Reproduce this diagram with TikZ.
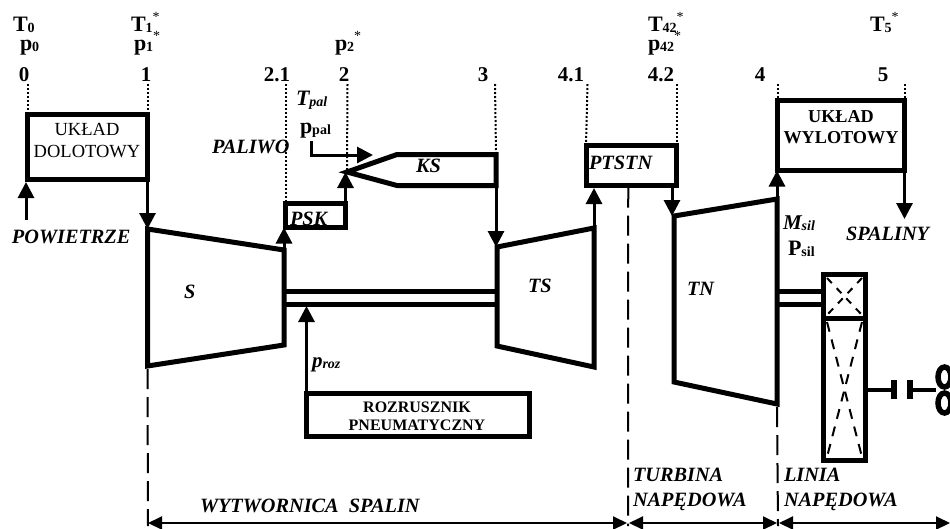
\documentclass[tikz,border=0pt]{standalone}
\usepackage{fontspec}
\setmainfont{Liberation Serif}
\usetikzlibrary{arrows.meta}
\newcommand{\fs}[1]{\fontsize{#1}{#1}\selectfont}
\newcommand{\sbb}[1]{\raisebox{-1.5pt}{\fs{14}#1}}
\newcommand{\str}{\raisebox{10pt}{\fs{14}\textmd{*}}}
\tikzset{
  x=1pt,y=-1pt,
  boxn/.style={draw=black,line width=5pt,inner sep=0pt,outer sep=0pt,fill=none},
  body/.style={draw=black,line width=5pt,line join=miter},
  flow/.style={draw=black,line width=3pt,-{Triangle[width=16pt,length=16pt]}},
  dots/.style={draw=black,line width=2pt,dash pattern=on 2pt off 2pt},
  longdash/.style={draw=black,line width=2pt,dash pattern=on 20pt off 8pt},
  span/.style={draw=black,line width=2pt,{Triangle[width=13pt,length=14pt]}-{Triangle[width=13pt,length=14pt]}},
  gearline/.style={draw=black,line width=2pt,dash pattern=on 10pt off 8pt},
  tx/.style={anchor=base west,inner sep=0pt,outer sep=0pt,font=\fs{22}\bfseries},
  num/.style={anchor=base,inner sep=0pt,outer sep=0pt,font=\fs{21}\bfseries},
  it/.style={anchor=base west,inner sep=0pt,outer sep=0pt,font=\fs{20.3}\bfseries\itshape},
  ctr/.style={anchor=base,inner sep=0pt,outer sep=0pt},
}
\begin{document}
\begin{tikzpicture}
\useasboundingbox (0,0) rectangle (950,528);
% text that sits behind the outlines
\node[it] (lpsk) at (290,225) {PSK};
\node[it] (lpaliwo) at (212,153) {PALIWO};
% boxes
\node[boxn,minimum width=120pt,minimum height=65pt] (dolot) at (87.5,147) {};
\node[boxn,minimum width=60pt,minimum height=24pt] (psk) at (315.5,215.5) {};
\node[boxn,minimum width=90.5pt,minimum height=40pt] (ptstn) at (631.25,165.5) {};
\node[boxn,minimum width=127pt,minimum height=70pt] (wylot) at (841,135.5) {};
\node[boxn,minimum width=223pt,minimum height=43pt] (roz) at (418,415) {};
\node[boxn,minimum width=42pt,minimum height=44pt] (gearA) at (844.5,296.5) {};
\node[boxn,minimum width=42pt,minimum height=142pt] (gearB) at (844.5,389.5) {};
% machine corners
\coordinate (Stl) at (147.5,229); \coordinate (Str) at (284,250);
\coordinate (Sbr) at (284,345); \coordinate (Sbl) at (147.5,366);
\coordinate (TStl) at (497,247); \coordinate (TStr) at (594,228);
\coordinate (TSbr) at (594,367); \coordinate (TSbl) at (497,346);
\coordinate (TNtl) at (674,216); \coordinate (TNtr) at (777,199);
\coordinate (TNbr) at (777,404); \coordinate (TNbl) at (674,382);
\coordinate (KStip) at (347,172);
\coordinate (KSt) at (397,154.5); \coordinate (KSb) at (397,185.5);
\coordinate (KStr) at (496,154.5); \coordinate (KSbr) at (496,185.5);
\draw[body] (Stl) -- (Str) -- (Sbr) -- (Sbl) -- cycle;
\draw[body] (TStl) -- (TStr) -- (TSbr) -- (TSbl) -- cycle;
\draw[body] (TNtl) -- (TNtr) -- (TNbr) -- (TNbl) -- cycle;
\draw[body] (KStr) -- (KSt) -- (KStip) -- (KSb) -- (KSbr) -- cycle;
% shafts
\draw[draw=black,line width=5pt] (284,291) -- (498,291) (284,304) -- (498,304);
\draw[draw=black,line width=5pt] (777,291) -- (gearA.west |- 0,291) (777,304) -- (gearA.west |- 0,304);
% output shaft and coupling
\coordinate (c1) at (895,390); \coordinate (c2) at (911,390); \coordinate (hub) at (936,390);
\draw[draw=black,line width=4pt] (gearB.east |- c1) -- (c1) (c2) -- (hub);
\draw[draw=black,line width=6pt] (894,380) -- (894,399) (910,380) -- (910,399);
\draw[draw=black,line width=5.5pt] (944.5,377) ellipse [x radius=6.5pt,y radius=10pt];
\draw[draw=black,line width=5.5pt] (944.5,403) ellipse [x radius=6.5pt,y radius=10pt];
% gear internals
\draw[draw=black,line width=2pt,dash pattern=on 7pt off 7pt] (827,278) -- (862,315);
\draw[draw=black,line width=2pt,dash pattern=on 7pt off 7pt] (862,278) -- (827,315);
\draw[gearline] (827,322) -- (862,457);
\draw[gearline] (862,322) -- (827,457);
% dotted station lines
\draw[dots] (27.5,84) -- (dolot.north west);
\draw[dots] (147.5,84) -- (dolot.north east);
\draw[dots] (285.5,84) -- (psk.north west);
\draw[dots] (347.5,84) -- (KStip);
\draw[dots] (495,84) -- (KStr);
\draw[dots] (587.5,84) -- (ptstn.north west);
\draw[dots] (676.5,84) -- (ptstn.north east);
\draw[dots] (777.5,84) -- (wylot.north west);
\draw[dots] (904.5,84) -- (wylot.north east);
% flow arrows
\coordinate (air) at (26,220);
\coordinate (fuelA) at (311,141); \coordinate (fuelB) at (311,155); \coordinate (fuelC) at (373,155);
\coordinate (gas) at (904.5,219);
\draw[flow] (air) -- (26,182);
\draw[flow] (dolot.south east) -- (Stl);
\draw[flow] (Str) -- (Str |- psk.south);
\draw[flow] (psk.north east) -- (KStip -| psk.north east);
\draw[flow] (fuelA) -- (fuelB) -- (fuelC);
\draw[flow] (KSbr) -- (KSbr |- TStl);
\draw[flow] (TStr) -- (594,188);
\draw[flow] (672,185.5) -- (672,216);
\draw[flow] (TNtr) -- (TNtr |- wylot.south);
\draw[flow] (wylot.south east) -- (gas);
\draw[flow] (roz.north west) -- (306.5,306);
% section lines
\coordinate (a1) at (148,526); \coordinate (a2) at (628,526); \coordinate (a3) at (778,526);
\coordinate (a4) at (950,523);
\draw[longdash] (Sbl) ++(0,3) -- (a1);
\draw[longdash] (ptstn.south) ++(-3,2) -- (a2);
\draw[longdash] (TNbr) ++(0,3) -- (a3);
\draw[span] (148,523) -- (627,523);
\draw[span] (629,523) -- (777,523);
\draw[span] (779,523) -- (a4);
% state labels
\node[tx] (t0) at (13,31) {T\sbb{0}};
\node[tx] (p0) at (20,50) {p\sbb{0}};
\node[tx] (t1) at (131,31) {T\sbb{1}\str};
\node[tx] (p1) at (134,50) {p\sbb{1}\str};
\node[tx] (p2) at (335,50) {p\sbb{2}\str};
\node[tx] (t42) at (648,31) {T\sbb{42}\str};
\node[tx] (p42) at (648,50) {p\sbb{42}\str};
\node[tx] (t5) at (870,31) {T\sbb{5}\str};
% station numbers
\node[num] (n0) at (24,81) {0};
\node[num] (n1) at (146,81) {1};
\node[num] (n21) at (277,81) {2.1};
\node[num] (n2) at (344,81) {2};
\node[num] (n3) at (483,81) {3};
\node[num] (n41) at (571,81) {4.1};
\node[num] (n42) at (661,81) {4.2};
\node[num] (n4) at (760,81) {4};
\node[num] (n5) at (883,81) {5};
% other labels
\node[tx,font=\fs{22}\bfseries\itshape] (tpal) at (296,105) {T\sbb{pal}};
\node[tx] (ppal) at (300,133) {p\sbb{pal}};
\node[it] (lair) at (12,243) {POWIETRZE};
\node[it] (lgas) at (846,240) {SPALINY};
\node[tx,font=\fs{21}\bfseries\itshape] (msil) at (783,229) {M\sbb{sil}};
\node[tx] (psil) at (788,255) {P\sbb{sil}};
\node[it] (ls) at (184,298) {S};
\node[it] (lts) at (528,292) {TS};
\node[it] (ltn) at (687,295) {TN};
\node[it] (lks) at (416,172) {KS};
\node[it] (lptstn) at (589,169) {PTSTN};
\node[it,font=\fs{15}\bfseries\itshape] (proz) at (312,367) {\fs{21}p\raisebox{-1.5pt}{\fs{14}roz}};
\node[ctr,font=\fs{18.5}] (d1) at (87,135) {UKŁAD};
\node[ctr,font=\fs{18.5}] (d2) at (87,157) {DOLOTOWY};
\node[ctr,font=\fs{18.2}\bfseries] (w1) at (841,122) {UKŁAD};
\node[ctr,font=\fs{18.2}\bfseries] (w2) at (841,143) {WYLOTOWY};
\node[ctr,font=\fs{16}\bfseries] (r1) at (417,412) {ROZRUSZNIK};
\node[ctr,font=\fs{16}\bfseries] (r2) at (417,430) {PNEUMATYCZNY};
\node[it] (lwyt) at (200,512) {WYTWORNICA\ \ SPALIN};
\node[it] (ltur) at (633,481) {TURBINA};
\node[it] (lnap1) at (633,506) {NAPĘDOWA};
\node[it] (llin) at (784,481) {LINIA};
\node[it] (lnap2) at (784,506) {NAPĘDOWA};
\end{tikzpicture}
\end{document}
